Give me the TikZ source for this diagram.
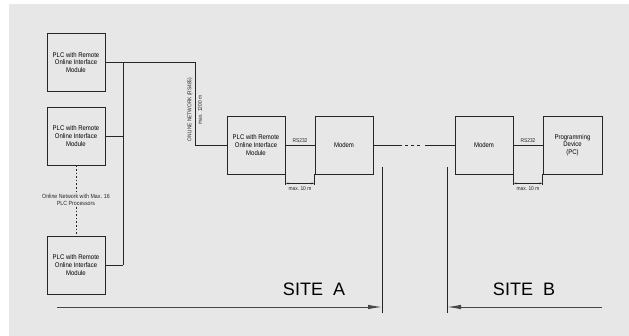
\documentclass[tikz,border=0pt]{standalone}
\usepackage{fontspec}
\setmainfont{Liberation Sans}
\newfontfamily\narrowfont[FakeStretch=0.88]{Liberation Sans}
\usetikzlibrary{arrows.meta,calc}
\definecolor{panelgray}{RGB}{231,231,231}
\definecolor{inkgray}{RGB}{38,38,38}

\tikzset{
  unitbox/.style={draw=inkgray, line width=0.8pt, minimum width=58pt, minimum height=58pt,
    align=center, inner sep=1pt, font=\narrowfont\fontsize{6.8}{7.6}\selectfont},
  tinylabel/.style={inner sep=1pt, text=inkgray, font=\narrowfont\fontsize{5.5}{6}\selectfont},
  notelabel/.style={inner sep=1pt, align=center, text=inkgray, font=\narrowfont\fontsize{6}{7}\selectfont},
  sitelabel/.style={inner sep=0pt, font=\fontsize{18}{20}\selectfont},
  wire/.style={draw=inkgray, line width=0.8pt},
  dimline/.style={draw=inkgray, line width=0.6pt, {Latex[length=3pt,width=2pt]}-{Latex[length=3pt,width=2pt]}},
  siteline/.style={draw=inkgray, line width=0.9pt},
  sitearrow/.style={draw=inkgray!85, line width=0.9pt, -{Latex[length=14pt,width=4.5pt]}},
}

\begin{document}
\begin{tikzpicture}[x=1pt,y=-1pt]
\useasboundingbox (0,0) rectangle (629,336);
\fill[panelgray] (9,4) rectangle (629,336);

% PLC processors on the online network
\foreach \n/\y in {1/62.5,2/136,3/265}
  \node[unitbox] (plc\n) at (76,\y) {PLC with Remote\\Online Interface\\Module};
\node[notelabel] (netnote) at (76,200) {Online Network with Max. 16\\PLC Processors};
\draw[inkgray, line width=1pt, dash pattern=on 1.6pt off 2pt] (plc2.south) -- (netnote.north);
\draw[inkgray, line width=1pt, dash pattern=on 1.6pt off 2pt] (netnote.south) -- (plc3.north);

% site A / site B units
\node[unitbox] (plcA) at (256,145) {PLC with Remote\\Online Interface\\Module};
\node[unitbox] (modemA) at (344,145) {Modem};
\node[unitbox] (modemB) at (484,145) {Modem};
\node[unitbox, minimum width=59pt] (pc) at (572.5,145) {Programming\\Device\\(PC)};

% online network bus
\coordinate (busTop) at (123,62.5);
\coordinate (busBot) at (123,265);
\coordinate (netdrop) at (195,145);
\draw[wire] (plc1.east) -| (netdrop) -- (plcA.west);
\draw[wire] (busTop) -- (busBot);
\draw[wire] (plc2.east) -- (plc2.east -| busTop);
\draw[wire] (plc3.east) -- (busBot);
\node[tinylabel, rotate=90] (netname) at (190,109.5) {ONLINE NETWORK (RS485)};
\node[tinylabel, rotate=90] (netmax) at (200,110) {max. 1200 m};

% RS232 links and phone line
\draw[wire] (plcA.east) -- (modemA.west) node[midway, above=1pt, tinylabel] {RS232};
\draw[wire] (modemB.east) -- (pc.west) node[midway, above=1pt, tinylabel] {RS232};
\coordinate (gapL) at (402,145);
\coordinate (gapR) at (425,145);
\draw[wire] (modemA.east) -- (gapL);
\draw[wire, dash pattern=on 3pt off 3pt] ($(gapL)+(3,0)$) -- ($(gapR)+(-4,0)$);
\draw[wire] (gapR) -- (modemB.west);

% max. 10 m dimensions
\draw[wire, line width=0.6pt] (plcA.south east) -- ++(0,11);
\draw[wire, line width=0.6pt] (modemA.south west) -- ++(0,11);
\draw[dimline] ($(plcA.south east)+(0,9)$) -- ($(modemA.south west)+(0,9)$)
  node[midway, below=1.5pt, tinylabel] {max.\ 10 m};
\draw[wire, line width=0.6pt] (modemB.south east) -- ++(0,11);
\draw[wire, line width=0.6pt] (pc.south west) -- ++(0,11);
\draw[dimline] ($(modemB.south east)+(0,9)$) -- ($(pc.south west)+(0,9)$)
  node[midway, below=1.5pt, tinylabel] {max.\ 10 m};

% sites
\coordinate (siteAtop) at (382,167);
\coordinate (siteAbot) at (382,313);
\coordinate (siteBtop) at (447,167);
\coordinate (siteBbot) at (447,313);
\coordinate (siteAstart) at (57,307);
\coordinate (siteBstart) at (602,307);
\draw[siteline] (siteAtop) -- (siteAbot);
\draw[siteline] (siteBtop) -- (siteBbot);
\draw[sitearrow] (siteAstart) -- (siteAstart -| siteAtop);
\draw[sitearrow] (siteBstart) -- (siteBstart -| siteBtop);
\node[sitelabel] (siteA) at (314,289) {SITE\ \ A};
\node[sitelabel] (siteB) at (524,289) {SITE\ \ B};
\end{tikzpicture}
\end{document}
